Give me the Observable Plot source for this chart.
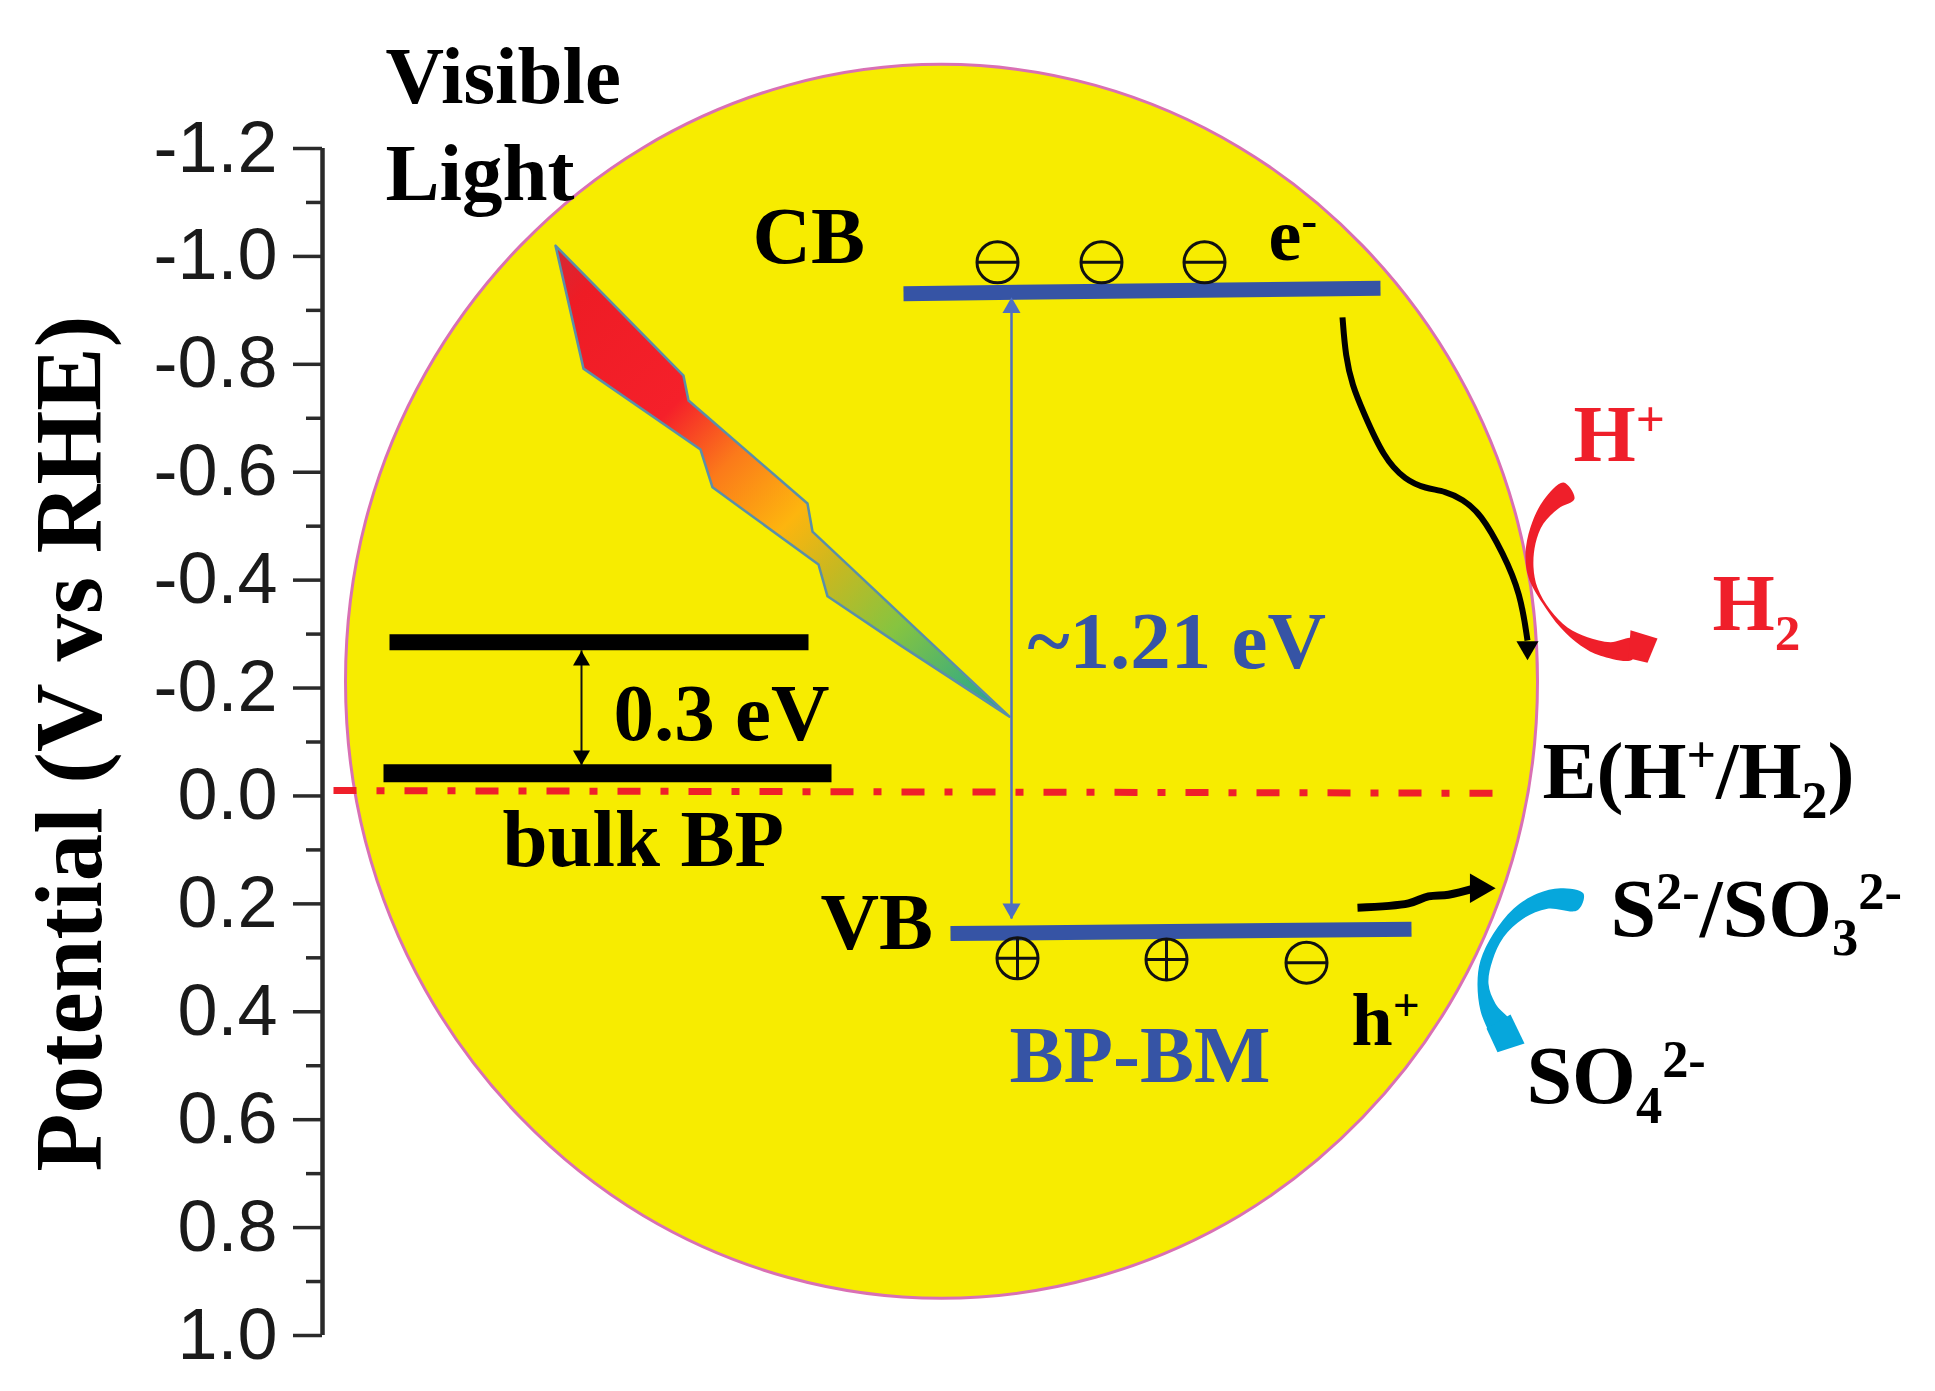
<!DOCTYPE html>
<html>
<head>
<meta charset="utf-8">
<script src="https://cdn.jsdelivr.net/npm/d3@7"></script>
<script src="https://cdn.jsdelivr.net/npm/@observablehq/plot@0.6"></script>
<style>
html,body{margin:0;padding:0;background:#fff;overflow:hidden}
svg{display:block}
</style>
</head>
<body>
<div id="chart"></div>
<script>
// Potential axis (V vs RHE)
const majorTicks = [-1.2,-1.0,-0.8,-0.6,-0.4,-0.2,0.0,0.2,0.4,0.6,0.8,1.0];
const minorTicks = [-1.1,-0.9,-0.7,-0.5,-0.3,-0.1,0.1,0.3,0.5,0.7,0.9];

// Yellow band outline
const blobX = [941,1095,1239,1362,1457,1517,1537,1517,1457,1362,1239,1095,941,787,643,520,425,365,345,365,425,520,643,787];
const blobV = [-1.356,-1.317,-1.202,-1.020,-0.784,-0.509,-0.212,0.084,0.360,0.596,0.778,0.892,0.931,0.892,0.778,0.596,0.360,0.084,-0.212,-0.509,-0.784,-1.020,-1.202,-1.317];

// Light bolt
const boltX = [555,683,688,807,812,1009,900,827,818,712,700,583];
const boltV = [-1.020,-0.779,-0.733,-0.542,-0.490,-0.147,-0.279,-0.370,-0.429,-0.572,-0.642,-0.792];

// Band levels
const bulkTopX = [389,808],  bulkTopV = [-0.285,-0.285];
const bulkLowX = [383,831],  bulkLowV = [-0.042,-0.042];
const cbX = [903,1380],      cbV = [-0.931,-0.941];
const vbX = [950,1411],      vbV = [0.255,0.247];
const refX = [333,1497],     refV = [-0.010,-0.005];

// Gap arrows
const gapBulkX = [581,581],  gapBulkV = [-0.270,-0.057];
const gapBpX = [1011,1011],  gapBpV = [-0.915,0.227];

// Charges
const electronX = [997,1101,1204],  electronV = [-0.989,-0.989,-0.989];
const holeX = [1017,1166],          holeV = [0.301,0.303];
const lastMinusX = [1306],          lastMinusV = [0.309];

// Curved paths
const waveX = [1342,1345,1352,1362,1383,1405,1425,1445,1462,1480,1503,1520,1527];
const waveV = [-0.887,-0.815,-0.760,-0.715,-0.627,-0.585,-0.570,-0.565,-0.550,-0.524,-0.449,-0.375,-0.288];
const holeFlowX = [1357,1408,1428,1448,1475];
const holeFlowV = [0.207,0.199,0.186,0.183,0.171];
const redArcX = [1563,1543,1530,1525,1528,1542,1560,1580,1600,1632,1632,1610,1587,1567,1550,1537,1533,1535,1543,1558,1574];
const redArcV = [-0.581,-0.548,-0.498,-0.449,-0.405,-0.357,-0.312,-0.279,-0.260,-0.253,-0.292,-0.285,-0.294,-0.312,-0.344,-0.386,-0.424,-0.468,-0.505,-0.533,-0.551];
const redHeadX = [1630,1657,1647,1628];
const redHeadV = [-0.307,-0.292,-0.247,-0.255];
const cyanArcX = [1583,1560,1537,1513,1493,1480,1477,1480,1488,1497,1512,1495,1488,1492,1503,1523,1547,1577];
const cyanArcV = [0.181,0.171,0.181,0.209,0.255,0.305,0.348,0.398,0.435,0.462,0.425,0.385,0.348,0.305,0.262,0.227,0.209,0.212];
const cyanHeadX = [1510,1524,1497,1486];
const cyanHeadV = [0.405,0.459,0.475,0.431];

// Labels
const blackText = ["Visible","Light","CB","0.3 eV","bulk BP","VB"];
const blackTextX = [385,385,752,613,502,820];
const blackTextV = [-1.285,-1.104,-0.987,-0.103,0.129,0.283];
const blueText = ["~1.21 eV","BP-BM"];
const blueTextX = [1027,1009];
const blueTextV = [-0.238,0.531];
const redText = ["H^{+}","H_{2}"];
const redTextX = [1573,1712];
const redTextV = [-0.620,-0.307];
const carrierText = ["e^{-}","h^{+}"];
const carrierX = [1268,1351];
const carrierV = [-0.994,0.461];
const redoxText = ["S^{2-}/SO_{3}^{2-}","SO_{4}^{2-}"];
const redoxX = [1610,1526];
const redoxV = [0.259,0.570];

const serif = "'Liberation Serif', serif";
const sans = "'Liberation Sans', Arial, sans-serif";
const BLUE = "#3654a5";
const RED = "#ef1f2a";
const CYAN = "#06a7dc";

const circled = (plus) => ({
  draw(ctx, size) {
    const r = Math.sqrt(size / Math.PI);
    ctx.moveTo(r, 0);
    ctx.arc(0, 0, r, 0, 2 * Math.PI);
    ctx.moveTo(-r, 0);
    ctx.lineTo(r, 0);
    if (plus) { ctx.moveTo(0, -r); ctx.lineTo(0, r); }
  }
});

const path = (xs, vs, opts) => Plot.line(xs, {x: xs, y: vs, strokeLinecap: "butt", ...opts});
const labels = (txt, xs, vs, opts) => Plot.text(txt, {
  x: xs, y: vs, text: d => d, textAnchor: "start", lineAnchor: "bottom",
  fontFamily: serif, fontWeight: "bold", ...opts
});
const head = (x, v, r, rotate, fill) => Plot.dot([0], {x: [x], y: [v], symbol: "triangle", r, rotate, fill, stroke: "none"});

const gradientDefs = () => {
  const defs = document.createElementNS("http://www.w3.org/2000/svg", "defs");
  defs.innerHTML = `<linearGradient id="boltGradient" x1="0" y1="0" x2="1" y2="1">
    <stop offset="0" stop-color="#d42a36"/><stop offset="0.08" stop-color="#ee1c25"/>
    <stop offset="0.3" stop-color="#f5202a"/><stop offset="0.42" stop-color="#fb7a1a"/>
    <stop offset="0.55" stop-color="#fdb50e"/><stop offset="0.65" stop-color="#c8b820"/>
    <stop offset="0.78" stop-color="#86c440"/><stop offset="0.92" stop-color="#3fae7a"/>
    <stop offset="1" stop-color="#2a9aa0"/></linearGradient>`;
  return defs;
};

const chart = Plot.plot({
  width: 1935, height: 1391,
  marginTop: 0, marginRight: 0, marginBottom: 0, marginLeft: 0,
  style: {background: "#fff", fontFamily: sans, overflow: "visible"},
  x: {domain: [0, 1935], range: [0, 1935], axis: null},
  y: {domain: [-1.2, 1.0], range: [148, 1335]},
  marks: [
    gradientDefs,
    path(blobX, blobV, {curve: "catmull-rom-closed", fill: "#f7ec00", stroke: "#d970b4", strokeWidth: 3}),
    path(boltX, boltV, {curve: "linear-closed", fill: "url(#boltGradient)", stroke: "#5a8fa8", strokeWidth: 2.5}),

    // y axis
    Plot.ruleX([322], {y1: -1.2, y2: 1.0, stroke: "#2a2a2a", strokeWidth: 4.5}),
    Plot.ruleY(minorTicks, {x1: 306, x2: 322, stroke: "#2a2a2a", strokeWidth: 3.5}),
    Plot.axisY({
      ticks: majorTicks, tickFormat: d => d.toFixed(1), x: 322,
      tickSize: 29, tickPadding: 16, label: null,
      fontSize: 72, fontFamily: sans, fill: "#1a1a1a", stroke: "#2a2a2a", strokeWidth: 3.5
    }),
    Plot.text(["Potential (V vs RHE)"], {
      x: [100], y: [-0.097], text: d => d, rotate: -90, lineAnchor: "bottom", textAnchor: "middle",
      fontFamily: serif, fontWeight: "bold", fontSize: 95, fill: "#000"
    }),

    // levels
    path(refX, refV, {stroke: RED, strokeWidth: 7, strokeDasharray: "23 20 8 20"}),
    path(bulkTopX, bulkTopV, {stroke: "#000", strokeWidth: 16}),
    path(bulkLowX, bulkLowV, {stroke: "#000", strokeWidth: 18}),
    path(cbX, cbV, {stroke: BLUE, strokeWidth: 15}),
    path(vbX, vbV, {stroke: BLUE, strokeWidth: 15}),

    // gap arrows
    path(gapBulkX, gapBulkV, {stroke: "#111", strokeWidth: 2}),
    head(581, -0.251, 6.3, 0, "#000"),
    head(581, -0.075, 6.3, 180, "#000"),
    path(gapBpX, gapBpV, {stroke: "#4f6fc0", strokeWidth: 2.5}),
    head(1011, -0.905, 6.7, 0, "#4f6fc0"),
    head(1011, 0.209, 6.7, 180, "#4f6fc0"),

    // charges
    Plot.dot(electronX, {x: electronX, y: electronV, r: 20.5, symbol: circled(false), fill: "none", stroke: "#111", strokeWidth: 3}),
    Plot.dot(holeX, {x: holeX, y: holeV, r: 20.5, symbol: circled(true), fill: "none", stroke: "#111", strokeWidth: 3}),
    Plot.dot(lastMinusX, {x: lastMinusX, y: lastMinusV, r: 20.5, symbol: circled(false), fill: "none", stroke: "#111", strokeWidth: 3}),

    // curved arrows
    path(waveX, waveV, {curve: "basis", stroke: "#000", strokeWidth: 6}),
    head(1527, -0.275, 8.2, 180, "#000"),
    path(holeFlowX, holeFlowV, {curve: "catmull-rom", stroke: "#000", strokeWidth: 8}),
    head(1478, 0.171, 11, 90, "#000"),
    path(redArcX, redArcV, {curve: "catmull-rom-closed", fill: RED, stroke: "none"}),
    path(redHeadX, redHeadV, {curve: "linear-closed", fill: RED, stroke: "none"}),
    path(cyanArcX, cyanArcV, {curve: "catmull-rom-closed", fill: CYAN, stroke: "none"}),
    path(cyanHeadX, cyanHeadV, {curve: "linear-closed", fill: CYAN, stroke: "none"}),

    // labels
    labels(blackText, blackTextX, blackTextV, {fontSize: 81, fill: "#000"}),
    labels(blueText, blueTextX, blueTextV, {fontSize: 81, fill: BLUE}),
    labels(redText, redTextX, redTextV, {fontSize: 80, fill: RED}),
    labels(carrierText, carrierX, carrierV, {fontSize: 74, fill: "#000"}),
    labels(["E(H^{+}/H_{2})"], [1542], [0.004], {fontSize: 81, fill: "#000"}),
    labels(redoxText, redoxX, redoxV, {fontSize: 82, fill: "#000"})
  ]
});

document.getElementById("chart").appendChild(chart);

// Turn ^{..} and _{..} in label strings into real superscript and subscript tspans
d3.select(chart).selectAll("text").each(function () {
  const raw = this.textContent;
  if (!/[\^_]\{/.test(raw)) return;
  const fs = parseFloat(getComputedStyle(this).fontSize);
  const ns = "http://www.w3.org/2000/svg";
  this.textContent = "";
  let offset = 0, last = 0;
  const re = /([\^_])\{([^}]*)\}/g;
  let m;
  const add = (txt, shift, size) => {
    const t = document.createElementNS(ns, "tspan");
    t.textContent = txt;
    t.setAttribute("dy", shift - offset);
    offset = shift;
    if (size) t.setAttribute("font-size", size);
    this.appendChild(t);
  };
  while ((m = re.exec(raw))) {
    if (m.index > last) add(raw.slice(last, m.index), 0);
    add(m[2], m[1] === "^" ? -0.32 * fs : 0.24 * fs, 0.64 * fs);
    last = re.lastIndex;
  }
  if (last < raw.length) add(raw.slice(last), 0);
});
</script>
</body>
</html>
